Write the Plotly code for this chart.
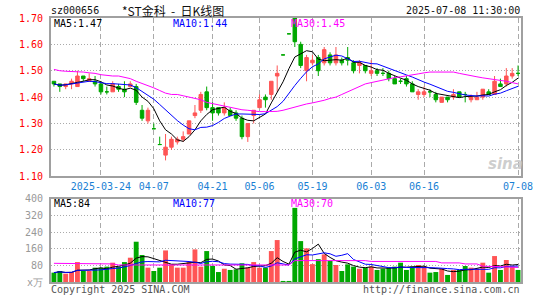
import pandas as pd
import plotly.graph_objects as go

# ---------------- data ----------------
holidays = ["2025-04-04", "2025-05-01", "2025-05-02", "2025-05-05", "2025-06-02"]
dates = [d.strftime("%Y-%m-%d") for d in pd.bdate_range("2025-03-12", "2025-07-08")
         if d.strftime("%Y-%m-%d") not in holidays]

opens = [1.46, 1.45, 1.44, 1.45, 1.44, 1.48, 1.46, 1.46, 1.45, 1.42,
         1.42, 1.44, 1.43, 1.44, 1.44, 1.35, 1.31, 1.28, 1.22, 1.18,
         1.21, 1.23, 1.24, 1.26, 1.33, 1.35, 1.42, 1.36, 1.36, 1.34,
         1.35, 1.34, 1.32, 1.25, 1.33, 1.36, 1.40, 1.41, 1.48, 1.56,
         1.64, 1.70, 1.60, 1.50, 1.53, 1.55, 1.53, 1.56, 1.53, 1.54,
         1.55, 1.53, 1.52, 1.52, 1.49, 1.50, 1.49, 1.49, 1.47, 1.46,
         1.47, 1.45, 1.41, 1.41, 1.42, 1.41, 1.38, 1.40, 1.40, 1.42,
         1.41, 1.39, 1.39, 1.40, 1.42, 1.41, 1.45, 1.45, 1.48, 1.49]
closes = [1.45, 1.44, 1.45, 1.46, 1.48, 1.47, 1.47, 1.45, 1.42, 1.42,
          1.45, 1.43, 1.42, 1.45, 1.38, 1.32, 1.35, 1.28, 1.22, 1.21,
          1.24, 1.24, 1.25, 1.31, 1.34, 1.41, 1.36, 1.34, 1.34, 1.36,
          1.33, 1.32, 1.25, 1.30, 1.35, 1.39, 1.39, 1.46, 1.49, 1.56,
          1.64, 1.61, 1.52, 1.55, 1.54, 1.50, 1.58, 1.53, 1.56, 1.53,
          1.54, 1.50, 1.53, 1.50, 1.50, 1.49, 1.49, 1.47, 1.45, 1.46,
          1.45, 1.42, 1.42, 1.42, 1.42, 1.39, 1.40, 1.39, 1.41, 1.40,
          1.41, 1.40, 1.40, 1.43, 1.41, 1.46, 1.44, 1.48, 1.49, 1.49]
highs = [1.46, 1.45, 1.45, 1.47, 1.50, 1.48, 1.49, 1.48, 1.46, 1.44,
         1.46, 1.45, 1.46, 1.46, 1.45, 1.37, 1.36, 1.30, 1.25, 1.26,
         1.25, 1.25, 1.27, 1.31, 1.37, 1.42, 1.44, 1.38, 1.36, 1.38,
         1.36, 1.35, 1.33, 1.30, 1.35, 1.41, 1.41, 1.46, 1.52, 1.56,
         1.64, 1.70, 1.61, 1.56, 1.56, 1.56, 1.59, 1.57, 1.59, 1.55,
         1.59, 1.54, 1.54, 1.52, 1.54, 1.51, 1.51, 1.50, 1.48, 1.47,
         1.48, 1.46, 1.43, 1.44, 1.43, 1.42, 1.40, 1.40, 1.43, 1.42,
         1.42, 1.41, 1.42, 1.43, 1.43, 1.48, 1.47, 1.51, 1.51, 1.52]
lows = [1.44, 1.42, 1.43, 1.43, 1.44, 1.46, 1.46, 1.44, 1.41, 1.41,
        1.42, 1.42, 1.40, 1.44, 1.37, 1.31, 1.30, 1.28, 1.22, 1.16,
        1.20, 1.22, 1.23, 1.26, 1.32, 1.34, 1.35, 1.31, 1.33, 1.33,
        1.33, 1.31, 1.24, 1.23, 1.30, 1.36, 1.36, 1.39, 1.42, 1.56,
        1.64, 1.59, 1.51, 1.46, 1.52, 1.48, 1.52, 1.52, 1.52, 1.52,
        1.52, 1.49, 1.49, 1.49, 1.48, 1.48, 1.48, 1.46, 1.45, 1.45,
        1.44, 1.42, 1.39, 1.40, 1.40, 1.38, 1.38, 1.38, 1.39, 1.40,
        1.38, 1.38, 1.39, 1.39, 1.41, 1.41, 1.44, 1.44, 1.47, 1.48]
volumes = [45, 53, 40, 48, 96, 53, 53, 69, 69, 74,
           93, 74, 96, 117, 194, 130, 69, 53, 69, 152,
           85, 69, 69, 96, 157, 74, 149, 77, 48, 64,
           58, 61, 90, 69, 96, 69, 69, 149, 202, 5,
           5, 357, 197, 162, 86, 110, 133, 101, 82, 53,
           85, 74, 64, 69, 74, 58, 64, 69, 74, 93,
           58, 74, 82, 74, 45, 48, 64, 34, 58, 58,
           77, 69, 64, 93, 45, 125, 58, 106, 74, 58]
# 30-day averages as drawn (they depend on history before the window)
ma30_price = [1.505, 1.50, 1.498, 1.497, 1.497, 1.495, 1.492, 1.49, 1.485, 1.482,
              1.48, 1.48, 1.475, 1.47, 1.46, 1.452, 1.445, 1.435, 1.425, 1.415,
              1.41, 1.41, 1.405, 1.40, 1.395, 1.39, 1.38, 1.375, 1.37, 1.366,
              1.362, 1.356, 1.352, 1.35, 1.347, 1.345, 1.345, 1.345, 1.346, 1.35,
              1.356, 1.362, 1.37, 1.374, 1.378, 1.382, 1.388, 1.395, 1.40, 1.41,
              1.42, 1.43, 1.44, 1.45, 1.455, 1.46, 1.466, 1.47, 1.474, 1.477,
              1.48, 1.484, 1.488, 1.492, 1.495, 1.495, 1.495, 1.495, 1.495, 1.49,
              1.485, 1.48, 1.477, 1.473, 1.47, 1.467, 1.463, 1.46, 1.455, 1.45]
ma30_vol = [90, 90, 90, 90, 87, 87, 87, 87, 87, 87,
            87, 82, 82, 82, 82, 82, 82, 82, 82, 82,
            82, 82, 82, 82, 82, 82, 82, 82, 82, 82,
            82, 82, 82, 82, 82, 82, 82, 82, 82, 82,
            82, 103, 103, 103, 103, 103, 103, 103, 103, 103,
            103, 103, 103, 103, 99, 99, 99, 99, 99, 99,
            99, 99, 99, 99, 99, 99, 92, 92, 92, 92,
            87, 87, 87, 76, 76, 76, 74, 72, 71, 70]

tick_dates = ["2025-03-24", "2025-04-07", "2025-04-21", "2025-05-06",
              "2025-05-19", "2025-06-03", "2025-06-16", "2025-07-08"]
tick_labels = ["2025-03-24", "04-07", "04-21", "05-06", "05-19", "06-03", "06-16", "07-08"]
price_ticks = [1.10, 1.20, 1.30, 1.40, 1.50, 1.60, 1.70]
vol_ticks = [0, 80, 160, 240, 320, 400]
vol_ticktext = ["x万", "80", "160", "240", "320", "400"]

# ---------------- derived ----------------
xs = list(range(len(dates)))
cs = pd.Series(closes)
vs = pd.Series(volumes)
ma5 = cs.rolling(5, min_periods=1).mean().tolist()
ma10 = cs.rolling(10, min_periods=1).mean().tolist()
vma5 = vs.rolling(5, min_periods=1).mean().tolist()
vma10 = vs.rolling(10, min_periods=1).mean().tolist()

RED = "#ff5555"
GREEN = "#00a800"
MONO = "DejaVu Sans Mono"

W, H = 545, 300
ML, MR, MT, MB = 51, 16, 18, 15
PW, PH = W - ML - MR, H - MT - MB


def px(x):
    return (x - ML) / PW


def py(y):
    return (H - MB - y) / PH


fig = go.Figure()

is_red = [c > o for o, c in zip(opens, closes)]
for flag, col in [(True, RED), (False, GREEN)]:
    sel = [i for i in xs if is_red[i] == flag]
    fig.add_trace(go.Candlestick(
        x=[xs[i] for i in sel],
        open=[opens[i] for i in sel], high=[highs[i] for i in sel],
        low=[lows[i] for i in sel], close=[closes[i] for i in sel],
        increasing=dict(line=dict(color=col, width=1), fillcolor=col),
        decreasing=dict(line=dict(color=col, width=1), fillcolor=col),
        whiskerwidth=0, showlegend=False, hoverinfo="skip",
        xaxis="x", yaxis="y"))

for vals, col in [(ma5, "#000000"), (ma10, "#0000ff"), (ma30_price, "#ff00ff")]:
    fig.add_trace(go.Scatter(x=xs, y=vals, mode="lines", line=dict(color=col, width=1),
                             showlegend=False, hoverinfo="skip", xaxis="x", yaxis="y"))

fig.add_trace(go.Bar(x=xs, y=volumes, marker=dict(color=[RED if r else GREEN for r in is_red], line=dict(width=0)),
                     showlegend=False, hoverinfo="skip", xaxis="x2", yaxis="y2"))
for vals, col in [(vma5, "#000000"), (vma10, "#0000ff"), (ma30_vol, "#ff00ff")]:
    fig.add_trace(go.Scatter(x=xs, y=vals, mode="lines", line=dict(color=col, width=1),
                             showlegend=False, hoverinfo="skip", xaxis="x2", yaxis="y2"))

tickpos = [dates.index(d) for d in tick_dates]
common_x = dict(range=[-0.5, len(dates) - 0.5], tickvals=tickpos, showgrid=True,
                gridcolor="#aaaaaa", gridwidth=1, griddash="5px,3px",
                showline=True, linecolor="#a0a0a0", linewidth=2, mirror=True,
                ticks="", zeroline=False, fixedrange=True)
common_y = dict(showgrid=True, gridcolor="#aaaaaa", gridwidth=1, griddash="1px,2px",
                showline=True, linecolor="#a0a0a0", linewidth=2, mirror=True,
                ticks="", zeroline=False, ticklabelstandoff=4)

fig.update_layout(
    width=W, height=H, margin=dict(l=ML, r=MR, t=MT, b=MB),
    paper_bgcolor="white", plot_bgcolor="white",
    bargap=0.17, boxgap=0.15, showlegend=False,
    xaxis=dict(anchor="y", domain=[0, 1], ticktext=tick_labels,
               tickfont=dict(family=MONO, size=10, color="#1a7fd4"),
               rangeslider=dict(visible=False), **common_x),
    yaxis=dict(domain=[py(178), 1], range=[1.10, 1.70], tickvals=price_ticks,
               ticktext=[f"{v:.2f}" for v in price_ticks],
               tickfont=dict(family=MONO, size=10, color="#ff0000"), **common_y),
    xaxis2=dict(anchor="y2", domain=[0, 1], matches="x", showticklabels=False, **common_x),
    yaxis2=dict(domain=[0, py(201)], range=[0, 400], tickvals=vol_ticks, ticktext=vol_ticktext,
                tickfont=dict(family=MONO, size=10, color="#999999"), **common_y),
)


def txt(x, y, s, color="#000", anchor="left", size=10, family=MONO, **kw):
    fig.add_annotation(x=px(x), y=py(y), xref="paper", yref="paper", text=s, showarrow=False,
                       xanchor=anchor, yanchor="middle",
                       font=dict(family=family, size=size, color=color), **kw)


txt(49, 10, "sz000656", "#111")
txt(175, 10, "*ST金科\u00a0\u00a0-\u00a0\u00a0日K线图", "#111", anchor="center", size=12,
    family="Noto Sans CJK SC, DejaVu Sans Mono")
txt(530, 10, "2025-07-08 11:30:00", "#111", anchor="right")

txt(52, 24, f"MA5:{ma5[-1]:.2f}", "#000")
txt(173, 24, f"MA10:{ma10[-1]:.2f}", "#0000ff")
txt(293, 24, f"MA30:{ma30_price[-1]:.2f}", "#ff00ff")
txt(52, 206, f"MA5:{vma5[-1]:.0f}", "#000")
txt(173, 206, f"MA10:{vma10[-1]:.0f}", "#0000ff")
txt(293, 206, f"MA30:{ma30_vol[-1]:.0f}", "#ff00ff")

txt(49, 293, "Copyright 2025 SINA.COM", "#555")
txt(530, 293, "http://finance.sina.com.cn", "#555", anchor="right")
txt(513, 166, "<b><i>sina</i></b>", "rgba(200,200,200,0.9)", anchor="center", size=15,
    family="DejaVu Sans")

fig.write_html("out.html")
